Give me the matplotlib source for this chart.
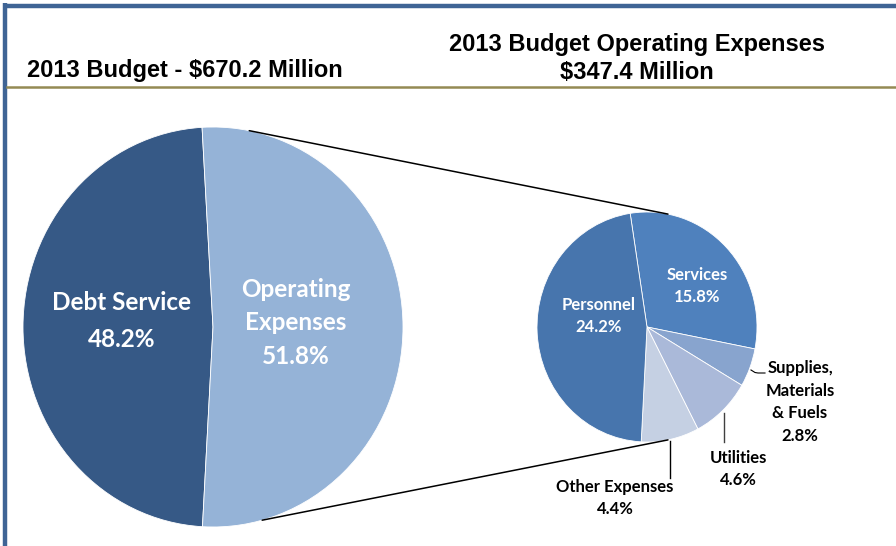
import numpy as np
import matplotlib.pyplot as plt
from matplotlib.patches import ConnectionPatch

# outer pie: total budget
budget_labels = ["Debt Service", "Operating\nExpenses"]
budget_pcts = [48.2, 51.8]
budget_colors = ["#365986", "#95B3D7"]

# inner pie: operating expenses breakdown (share of total budget)
op_labels = ["Services", "Supplies,\nMaterials\n& Fuels", "Utilities", "Other Expenses", "Personnel"]
op_pcts = [15.8, 2.8, 4.6, 4.4, 24.2]
op_colors = ["#4F81BD", "#88A4CE", "#AAB9D9", "#C5D0E3", "#4775AD"]

W, H = 896, 546
fig = plt.figure(figsize=(W / 100, H / 100), dpi=100)


def pixel_axes():
    ax = fig.add_axes([0, 0, 1, 1])
    ax.set_xlim(0, W)
    ax.set_ylim(H, 0)
    ax.axis("off")
    return ax


def pie_axes(left, top, w, h):
    return fig.add_axes([left / W, 1 - (top + h) / H, w / W, h / H])


# frame and titles
bg = pixel_axes()
bg.plot([5, 5], [3, H], color="#3F6495", lw=3.2, solid_capstyle="butt")
bg.plot([3, W], [5.5, 5.5], color="#3F6495", lw=3.2, solid_capstyle="butt")
bg.plot([7, W], [86.5, 86.5], color="#948A54", lw=1.8)

title_font = dict(family="Liberation Sans", weight="bold", color="black")
bg.text(27, 77, "2013 Budget - $670.2 Million", fontsize=17, ha="left", va="baseline", **title_font)
bg.text(637, 51, "2013 Budget Operating Expenses", fontsize=17, ha="center", va="baseline", **title_font)
bg.text(637, 79, "$347.4 Million", fontsize=17, ha="center", va="baseline", **title_font)

# big pie
ax1 = pie_axes(23, 127, 380, 400)
ax1.pie(budget_pcts, colors=budget_colors, startangle=93.3, counterclock=True,
        radius=1, wedgeprops=dict(edgecolor="white", linewidth=0.6))
ax1.set_aspect("auto")
ax1.set_xlim(-1, 1)
ax1.set_ylim(-1, 1)

# small pie
ax2 = pie_axes(537, 212, 220, 230)
ax2.pie(op_pcts, colors=op_colors, startangle=98.8, counterclock=False,
        radius=1, wedgeprops=dict(edgecolor="white", linewidth=0.6))
ax2.set_aspect("auto")
ax2.set_xlim(-1, 1)
ax2.set_ylim(-1, 1)

# connector lines between the pies
big_angles = [79, -75]
small_angles = [79, -79]
for a1, a2 in zip(big_angles, small_angles):
    p1 = (np.cos(np.radians(a1)), np.sin(np.radians(a1)))
    p2 = (np.cos(np.radians(a2)), np.sin(np.radians(a2)))
    con = ConnectionPatch(xyA=p1, coordsA=ax1.transData, xyB=p2, coordsB=ax2.transData,
                          color="black", lw=1.1)
    fig.add_artist(con)

# labels on top of everything
top = pixel_axes()
lab = dict(family="Lato", weight="bold", ha="center", va="center")

top.text(122, 321, f"{budget_labels[0]}\n{budget_pcts[0]}%", fontsize=17.5, color="white",
         linespacing=1.7, **lab)
top.text(296, 323, f"{budget_labels[1]}\n{budget_pcts[1]}%", fontsize=17.5, color="white",
         linespacing=1.55, **lab)

inner_pos = {"Services": (697, 286), "Personnel": (599, 316)}
outer_pos = {1: (800, 402), 2: (738, 469), 3: (615, 498)}
for i, (name, pct) in enumerate(zip(op_labels, op_pcts)):
    txt = f"{name}\n{pct}%"
    if name in inner_pos:
        x, y = inner_pos[name]
        top.text(x, y, txt, fontsize=12, color="white", linespacing=1.5, **lab)
    else:
        x, y = outer_pos[i]
        top.text(x, y, txt, fontsize=12, color="black", linespacing=1.5, **lab)

# leader lines
top.plot([751, 755, 758, 765], [370, 372.5, 373, 373], color="black", lw=0.8)
top.plot([724, 724], [413, 442], color="#404040", lw=1.0)
top.plot([670, 670], [441, 478], color="black", lw=1.0)

fig.savefig("out.png", dpi=100)
